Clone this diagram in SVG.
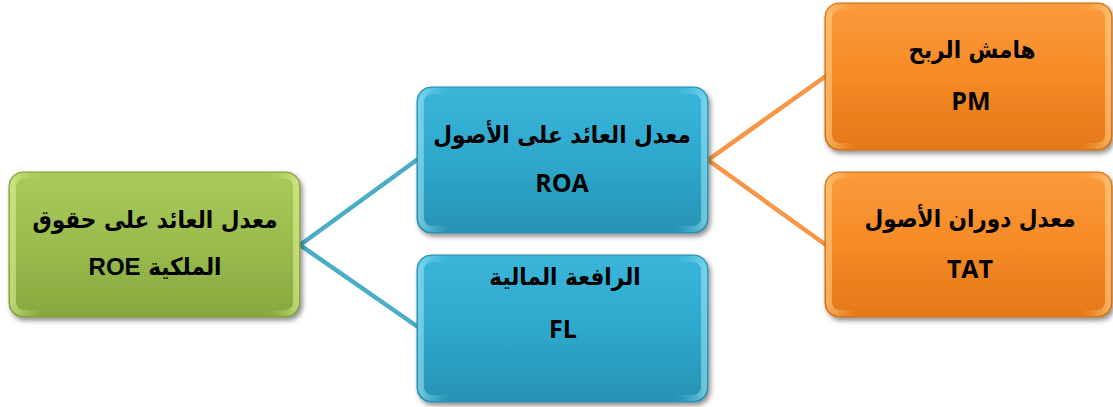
<svg xmlns="http://www.w3.org/2000/svg" width="1113" height="407" viewBox="0 0 1113 407">
<style>
.ar{font-family:"DejaVu Sans Condensed","DejaVu Sans",sans-serif;font-weight:bold;font-size:24px;fill:#000;text-anchor:middle}
.en{font-family:"Open Sans","Liberation Sans",sans-serif;font-weight:bold;font-size:25px;fill:#000;text-anchor:middle}
.box{filter:url(#sh)}
.bev{fill:none;stroke-width:6;opacity:0.55}
</style>
<defs>
<filter id="sh" x="-10%" y="-10%" width="125%" height="130%">
<feDropShadow dx="2" dy="3" stdDeviation="2.5" flood-color="#000" flood-opacity="0.45"/>
</filter>
<linearGradient id="gG" x1="0" y1="0" x2="0" y2="1">
<stop offset="0" stop-color="#a9cb5a"/><stop offset="0.5" stop-color="#9bbb4e"/><stop offset="1" stop-color="#86a83c"/>
</linearGradient>
<linearGradient id="gB" x1="0" y1="0" x2="0" y2="1">
<stop offset="0" stop-color="#3ab6da"/><stop offset="0.5" stop-color="#2ea8cc"/><stop offset="1" stop-color="#2893b4"/>
</linearGradient>
<linearGradient id="gO" x1="0" y1="0" x2="0" y2="1">
<stop offset="0" stop-color="#fb9a3c"/><stop offset="0.5" stop-color="#f58a26"/><stop offset="1" stop-color="#e47818"/>
</linearGradient>
<linearGradient id="bevG" x1="0" y1="0" x2="1" y2="0">
<stop offset="0" stop-color="#e8f5a0"/><stop offset="0.1" stop-color="#b8d56a" stop-opacity="0"/><stop offset="0.9" stop-color="#b8d56a" stop-opacity="0"/><stop offset="1" stop-color="#e8f5a0"/>
</linearGradient>
<linearGradient id="bevB" x1="0" y1="0" x2="1" y2="0">
<stop offset="0" stop-color="#a8e8f8"/><stop offset="0.1" stop-color="#60c8e8" stop-opacity="0"/><stop offset="0.9" stop-color="#60c8e8" stop-opacity="0"/><stop offset="1" stop-color="#a8e8f8"/>
</linearGradient>
<linearGradient id="bevO" x1="0" y1="0" x2="1" y2="0">
<stop offset="0" stop-color="#ffd890"/><stop offset="0.1" stop-color="#ffb060" stop-opacity="0"/><stop offset="0.9" stop-color="#ffb060" stop-opacity="0"/><stop offset="1" stop-color="#ffd890"/>
</linearGradient>
</defs>
<g id="connectors" fill="none" stroke-width="4.5">
<path d="M300,245 L418,159" stroke="#4bacc6"/>
<path d="M300,245 L418,327" stroke="#4bacc6"/>
<path d="M708,160 L826,76" stroke="#f79646"/>
<path d="M708,160 L826,245" stroke="#f79646"/>
</g>
<g id="roe">
<rect class="box" x="9" y="172" width="291" height="145" rx="14" fill="url(#gG)" stroke="#7f9a3a" stroke-width="1"/>
<rect class="bev" x="13" y="176" width="283" height="137" rx="11" stroke="url(#bevG)"/>
<text class="ar" x="155" y="228">معدل العائد على حقوق</text>
<text x="155" y="275" text-anchor="middle"><tspan class="en" style="font-family:'Liberation Sans',sans-serif;font-size:24px">ROE</tspan><tspan class="ar"> الملكية</tspan></text>
</g>
<g id="roa">
<rect class="box" x="417" y="87" width="291" height="146" rx="14" fill="url(#gB)" stroke="#2a8aa8" stroke-width="1"/>
<rect class="bev" x="421" y="91" width="283" height="138" rx="11" stroke="url(#bevB)"/>
<text class="ar" x="562" y="143">معدل العائد على الأصول</text>
<text class="en" x="562" y="192">ROA</text>
</g>
<g id="fl">
<rect class="box" x="417" y="255" width="291" height="147" rx="14" fill="url(#gB)" stroke="#2a8aa8" stroke-width="1"/>
<rect class="bev" x="421" y="259" width="283" height="139" rx="11" stroke="url(#bevB)"/>
<text class="ar" x="565" y="285">الرافعة المالية</text>
<text class="en" x="563" y="338">FL</text>
</g>
<g id="pm">
<rect class="box" x="825" y="3" width="287" height="147" rx="14" fill="url(#gO)" stroke="#c86a10" stroke-width="1"/>
<rect class="bev" x="829" y="7" width="279" height="139" rx="11" stroke="url(#bevO)"/>
<text class="ar" x="972" y="58">هامش الربح</text>
<text class="en" x="971" y="110">PM</text>
</g>
<g id="tat">
<rect class="box" x="825" y="172" width="287" height="145" rx="14" fill="url(#gO)" stroke="#c86a10" stroke-width="1"/>
<rect class="bev" x="829" y="176" width="279" height="137" rx="11" stroke="url(#bevO)"/>
<text class="ar" x="970" y="227">معدل دوران الأصول</text>
<text class="en" x="970" y="278">TAT</text>
</g>
</svg>
